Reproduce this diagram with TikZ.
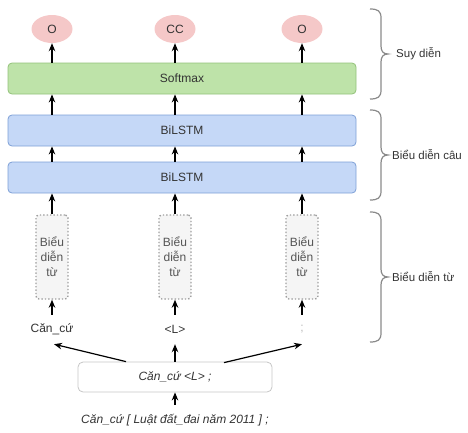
\documentclass[tikz,border=0pt]{standalone}
\usepackage{fontspec}
\setmainfont{Liberation Sans}
\usetikzlibrary{shapes.geometric,arrows.meta,calc}

\definecolor{pinkfill}{HTML}{F5C8C8}
\definecolor{greenfill}{HTML}{BEE3A9}
\definecolor{greenline}{HTML}{93C27A}
\definecolor{bluefill}{HTML}{C5D8F7}
\definecolor{blueline}{HTML}{7EA0D6}
\definecolor{wordfill}{HTML}{F5F5F5}
\definecolor{txt}{HTML}{333333}
\definecolor{softtxt}{HTML}{555555}
\definecolor{bracecol}{HTML}{8A8A8A}

% curly brace on the right: top y, bottom y, middle y
\newcommand{\sidebrace}[3]{%
  \draw[bracecol, line width=1.2pt]
    (370,#1) .. controls (378,#1) and (381,#1+2) .. (381,#1+9)
    -- (381,#3-8) .. controls (381,#3-3) and (383,#3) .. (388,#3)
    .. controls (383,#3) and (381,#3+3) .. (381,#3+8)
    -- (381,#2-9) .. controls (381,#2-2) and (378,#2) .. (370,#2);}

\tikzset{
  base/.style={font=\fontsize{12}{14}\selectfont, text=txt, inner sep=0pt},
  tag/.style={base, ellipse, fill=pinkfill, minimum width=41, minimum height=28},
  layer/.style={base, rounded corners=4pt, line width=0.8pt, minimum width=348, minimum height=31},
  softbox/.style={layer, fill=greenfill, draw=greenline},
  lstmbox/.style={layer, fill=bluefill, draw=blueline},
  wordbox/.style={base, text=softtxt, font=\fontsize{12}{15}\selectfont, align=center,
    fill=wordfill, draw=gray!75, dotted, line width=1.4pt, rounded corners=3pt,
    minimum width=32, minimum height=84},
  word/.style={base, minimum height=29},
  inputbox/.style={base, font=\fontsize{12}{14}\selectfont\itshape, draw=gray!45, line width=0.8pt,
    rounded corners=5pt, minimum width=194, minimum height=30},
  sidelabel/.style={base, font=\fontsize{11.5}{13}\selectfont, anchor=west},
  arr/.style={-{Stealth[length=8pt,width=6.5pt]}, line width=1.2pt, black},
}

\begin{document}
\begin{tikzpicture}[x=1pt, y=-1pt]
\useasboundingbox (0,0) rectangle (468,432);

% output tags
\node[tag] (e1) at (52,29) {O};
\node[tag] (e2) at (175,29) {CC};
\node[tag] (e3) at (302,29) {O};

% layers
\node[softbox] (sm) at (182,78.5) {Softmax};
\node[lstmbox] (b1) at (182,130.5) {BiLSTM};
\node[lstmbox] (b2) at (182,177.5) {BiLSTM};

% word representations
\node[wordbox] (r1) at (52,257) {Biểu\\diễn\\từ};
\node[wordbox] (r2) at (175,257) {Biểu\\diễn\\từ};
\node[wordbox] (r3) at (302,257) {Biểu\\diễn\\từ};

% tokens
\node[word] (w1) at (52,329.5) {Căn\_cứ};
\node[word] (w2) at (175,329.5) {<L>};
\node[word, text=gray!55] (w3) at (302,329.5) {;};

% input sentence
\node[inputbox] (in) at (175,377) {Căn\_cứ <L> ;};
\node[base, font=\fontsize{12}{14}\selectfont\itshape, minimum height=30] (src) at (175,420)
  {Căn\_cứ [ Luật đất\_đai năm 2011 ] ;};

% vertical connectors in each column
\foreach \e/\r/\w in {e1/r1/w1, e2/r2/w2, e3/r3/w3} {
  \draw[arr] (sm.north -| \e) -- (\e.south);
  \draw[arr] (b1.north -| \e) -- (sm.south -| \e);
  \draw[arr] (b2.north -| \e) -- (b1.south -| \e);
  \draw[arr] (\r.north) -- (b2.south -| \e);
  \draw[arr] (\w.north) -- (\r.south);
}

% splitting the input into tokens
\draw[arr] ([xshift=-49pt]in.north) -- ([xshift=2pt]w1.south);
\draw[arr] (in.north) -- (w2.south);
\draw[arr] ([xshift=49pt,yshift=-1pt]in.north) -- (w3.south);
\draw[arr] (src.north) -- (in.south);

% braces and their labels
\sidebrace{9}{99}{54}
\sidebrace{110}{200}{155}
\sidebrace{212}{342}{277}
\node[sidelabel] (l1) at (396,54) {Suy diễn};
\node[sidelabel] (l2) at (392,155) {Biểu diễn câu};
\node[sidelabel] (l3) at (392,277) {Biểu diễn từ};
\end{tikzpicture}
\end{document}
